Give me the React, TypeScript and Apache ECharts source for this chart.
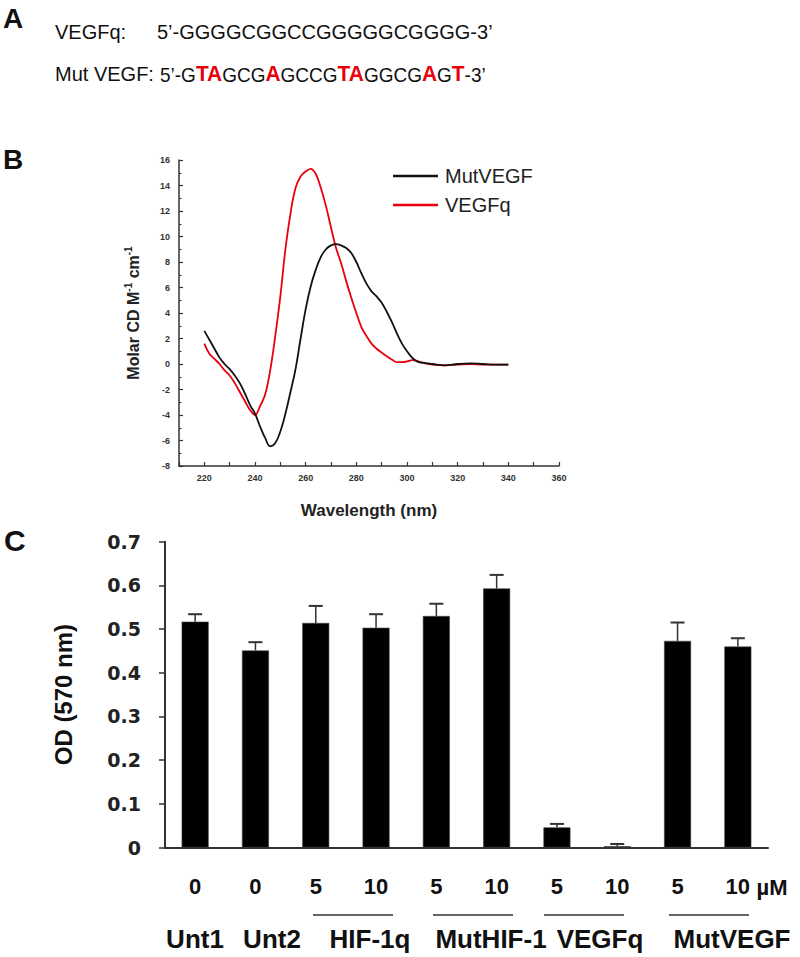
import React, { useEffect, useRef } from "react";
import * as echarts from "echarts";

// Panel B: CD spectra
const wavelengths = [
  220, 222, 224, 226, 228, 230, 232, 234, 236, 238, 240, 242, 244, 246, 248, 250,
  252, 254, 256, 258, 260, 262, 264, 266, 268, 270, 272, 274, 276, 278, 280, 282,
  284, 286, 288, 290, 292, 294, 296, 298, 300, 302, 304, 306, 310, 315, 320, 325,
  330, 335, 340,
];
const mutVEGF = [
  2.6, 1.9, 1.2, 0.5, 0.0, -0.4, -0.9, -1.5, -2.3, -3.2, -3.9, -4.9, -5.8, -6.45, -6.2, -5.3,
  -3.9, -2.2, -0.4, 2.0, 4.3, 6.1, 7.4, 8.4, 9.0, 9.3, 9.4, 9.3, 9.1, 8.7, 8.0, 7.1,
  6.3, 5.7, 5.3, 4.8, 4.1, 3.3, 2.4, 1.6, 1.0, 0.5, 0.2, 0.1, 0.0, -0.1, 0.0, 0.05,
  0.0, -0.05, -0.05,
];
const vegfq = [
  1.6, 0.8, 0.4, 0.0, -0.5, -0.9, -1.5, -2.2, -2.9, -3.6, -4.0, -3.3, -2.4, -0.5, 2.2, 5.3,
  9.0, 11.8, 13.8, 14.7, 15.1, 15.3, 14.9, 13.8, 12.4, 10.7, 9.1, 7.9, 6.5, 5.2, 4.0, 2.9,
  2.2, 1.6, 1.2, 0.9, 0.6, 0.35, 0.15, 0.15, 0.2, 0.3, 0.25, 0.1, -0.05, -0.1, -0.05, 0.0,
  -0.05, -0.05, -0.05,
];

// Panel C: OD bars
const doseLabels = ["0", "0", "5", "10", "5", "10", "5", "10", "5", "10"];
const odValues = [0.517, 0.451, 0.514, 0.503, 0.53, 0.593, 0.046, 0.003, 0.473, 0.46];
const odErrors = [0.017, 0.019, 0.039, 0.031, 0.028, 0.031, 0.008, 0.005, 0.042, 0.019];
const groupLabels = ["Unt1", "Unt2", "HIF-1q", "MutHIF-1", "VEGFq", "MutVEGF"];
const groupLabelX = [195, 272, 370, 491, 600, 732];
const groupLines = [
  [313, 393],
  [433, 513],
  [544, 624],
  [669, 749],
];

const SANS = "'Liberation Sans', Arial, Helvetica, sans-serif";
const DEJAVU = "'DejaVu Sans', Verdana, sans-serif";

export default function App() {
  const ref = useRef<HTMLDivElement>(null);

  useEffect(() => {
    document.body.style.margin = "0";
    if (!ref.current) return;
    const chart = echarts.init(ref.current, undefined, { renderer: "svg" });

    const txt = (
      text: string,
      x: number,
      y: number,
      size: number,
      weight: string,
      align: string = "left",
      extra: any = {}
    ) => ({
      type: "text",
      x,
      y,
      ...extra,
      style: {
        text,
        fontSize: size,
        fontWeight: weight,
        fontFamily: SANS,
        fill: "#111",
        align,
        textAlign: align,
        verticalAlign: "middle",
        textVerticalAlign: "middle",
        ...(extra.style || {}),
      },
    });

    const graphics: any[] = [
      txt("A", 3, 18, 28, "bold"),
      txt("B", 3, 159, 28, "bold"),
      txt("C", 4, 540, 30, "bold"),
      txt("VEGFq:", 55, 32, 20, "normal"),
      txt("5\u2019-GGGGCGGCCGGGGGCGGGG-3\u2019", 157, 32, 20, "normal"),
      txt("Mut VEGF:", 55, 74, 20, "normal"),
      {
        type: "text",
        x: 160,
        y: 74,
        scaleX: 0.95,
        style: {
          text:
            "{n|5\u2019-G}{r|TA}{n|GCG}{r|A}{n|GCCG}{r|TA}{n|GGCG}{r|A}{n|G}{r|T}{n|-3\u2019}",
          fontFamily: SANS,
          fontSize: 20,
          align: "left",
          textAlign: "left",
          verticalAlign: "middle",
          textVerticalAlign: "middle",
          rich: {
            n: { fontSize: 20, fontFamily: SANS, fill: "#111", color: "#111", verticalAlign: "bottom" },
            r: {
              fontSize: 22,
              fontFamily: SANS,
              fontWeight: "bold",
              fill: "#e8000d",
              color: "#e8000d",
              verticalAlign: "bottom",
            },
          },
        },
      },
      txt("\u00b5M", 772, 887, 22, "bold", "center"),
    ];
    groupLabels.forEach((g, i) => {
      graphics.push(txt(g, groupLabelX[i], 939, 26, "bold", "center"));
    });
    groupLines.forEach(([x1, x2]) => {
      graphics.push({
        type: "line",
        shape: { x1, y1: 915, x2, y2: 915 },
        style: { stroke: "#333", lineWidth: 1.5 },
      });
    });

    const option: any = {
      animation: false,
      backgroundColor: "#fff",
      grid: [
        { left: 179, top: 160, width: 380, height: 306 },
        { left: 165, top: 541.7, width: 603, height: 305.8 },
      ],
      legend: {
        data: ["MutVEGF", "VEGFq"],
        orient: "vertical",
        left: 388,
        top: 161,
        icon: "rect",
        itemWidth: 45,
        itemHeight: 2.5,
        itemGap: 9,
        textStyle: {
          fontSize: 20,
          color: "#222",
          fontFamily: SANS,
          lineHeight: 20,
          padding: [0, 0, 0, 2],
        },
      },
      xAxis: [
        {
          gridIndex: 0,
          type: "value",
          min: 210,
          max: 360,
          interval: 10,
          splitLine: { show: false },
          axisLine: { onZero: false, lineStyle: { color: "#333", width: 1.5 } },
          axisTick: { inside: true, length: 4, lineStyle: { color: "#333", width: 1.2 } },
          axisLabel: {
            formatter: (v: number) => (v % 20 === 0 ? String(v) : ""),
            fontSize: 9,
            fontWeight: "bold",
            color: "#333",
            fontFamily: SANS,
            margin: 7,
          },
          name: "Wavelength (nm)",
          nameLocation: "middle",
          nameGap: 36,
          nameTextStyle: { fontSize: 17, fontWeight: "bold", color: "#222", fontFamily: SANS },
        },
        {
          gridIndex: 1,
          type: "category",
          data: doseLabels,
          axisLine: { lineStyle: { color: "#333", width: 2 } },
          axisTick: { length: 5, lineStyle: { color: "#333", width: 1.5 } },
          axisLabel: {
            fontSize: 22,
            fontWeight: "bold",
            color: "#111",
            fontFamily: SANS,
            margin: 28,
          },
        },
      ],
      yAxis: [
        {
          gridIndex: 0,
          type: "value",
          min: -8,
          max: 16,
          interval: 2,
          splitLine: { show: false },
          axisLine: { show: true, lineStyle: { color: "#333", width: 1.5 } },
          axisTick: { show: true, inside: true, length: 4, lineStyle: { color: "#333", width: 1.2 } },
          minorTick: { show: true, splitNumber: 2, length: 2.5, lineStyle: { color: "#333", width: 1 } },
          axisLabel: {
            fontSize: 9,
            fontWeight: "bold",
            color: "#333",
            fontFamily: SANS,
            margin: 9,
          },
          name: "{b|Molar CD M}{sup|-1}{b| cm}{sup|-1}",
          nameLocation: "middle",
          nameGap: 36,
          nameTextStyle: {
            fontSize: 16,
            fontWeight: "bold",
            color: "#222",
            fontFamily: SANS,
            rich: {
              b: { fontSize: 16, fontWeight: "bold", color: "#222", fontFamily: SANS, lineHeight: 20 },
              sup: { fontSize: 10, fontWeight: "bold", color: "#222", fontFamily: SANS, verticalAlign: "top" },
            },
          },
        },
        {
          gridIndex: 1,
          type: "value",
          min: 0,
          max: 0.7,
          interval: 0.1,
          splitLine: { show: false },
          axisLine: { show: true, lineStyle: { color: "#333", width: 2 } },
          axisTick: { show: true, length: 6, lineStyle: { color: "#333", width: 1.5 } },
          axisLabel: {
            formatter: (v: number) => (v === 0 ? "0" : v.toFixed(1)),
            fontSize: 19,
            fontWeight: "bold",
            color: "#222",
            fontFamily: DEJAVU,
            margin: 24,
          },
          name: "OD (570 nm)",
          nameLocation: "middle",
          nameGap: 90,
          nameTextStyle: { fontSize: 24, fontWeight: "bold", color: "#111", fontFamily: SANS },
        },
      ],
      series: [
        {
          name: "MutVEGF",
          type: "line",
          xAxisIndex: 0,
          yAxisIndex: 0,
          data: wavelengths.map((w, i) => [w, mutVEGF[i]]),
          smooth: 0.4,
          symbol: "none",
          showSymbol: false,
          color: "#111",
          lineStyle: { color: "#111", width: 1.8 },
          z: 3,
        },
        {
          name: "VEGFq",
          type: "line",
          xAxisIndex: 0,
          yAxisIndex: 0,
          data: wavelengths.map((w, i) => [w, vegfq[i]]),
          smooth: 0.4,
          symbol: "none",
          showSymbol: false,
          color: "#e8000d",
          lineStyle: { color: "#e8000d", width: 1.8 },
          z: 2,
        },
        {
          name: "OD",
          type: "bar",
          xAxisIndex: 1,
          yAxisIndex: 1,
          data: odValues,
          barWidth: 27,
          itemStyle: { color: "#000", borderColor: "#444", borderWidth: 0.6 },
        },
        {
          name: "err",
          type: "custom",
          xAxisIndex: 1,
          yAxisIndex: 1,
          z: 4,
          data: odValues.map((v, i) => [i, v, odErrors[i]]),
          encode: { x: 0, y: 1 },
          renderItem: (params: any, api: any) => {
            const i = api.value(0);
            const v = api.value(1);
            const e = api.value(2);
            const base = api.coord([i, v]);
            const top = api.coord([i, v + e]);
            const hw = 7;
            return {
              type: "group",
              children: [
                {
                  type: "line",
                  shape: { x1: base[0], y1: base[1], x2: base[0], y2: top[1] },
                  style: { stroke: "#333", lineWidth: 1.5 },
                },
                {
                  type: "line",
                  shape: { x1: base[0] - hw, y1: top[1], x2: base[0] + hw, y2: top[1] },
                  style: { stroke: "#333", lineWidth: 2 },
                },
              ],
            };
          },
        },
      ],
      graphic: graphics,
    };

    chart.setOption(option);
    return () => chart.dispose();
  }, []);

  return <div ref={ref} style={{ width: 800, height: 957 }} />;
}
